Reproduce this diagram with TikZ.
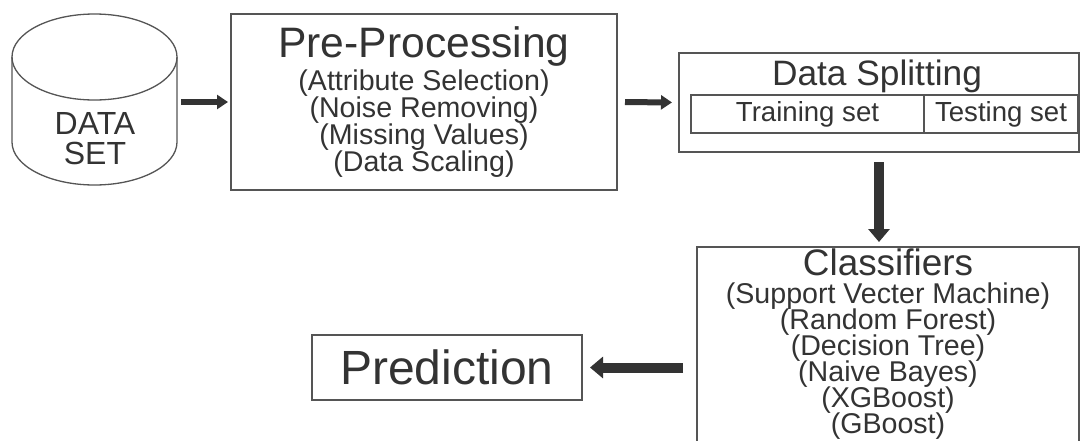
\documentclass[tikz,border=0pt]{standalone}
\usepackage{fontspec}
\setmainfont{Liberation Sans}
\usetikzlibrary{arrows.meta,positioning}
\definecolor{ink}{HTML}{333333}
\definecolor{edge}{HTML}{555555}
\newcommand\tightlines{\lineskiplimit=-50pt\relax}

\begin{document}
\begin{tikzpicture}[
  x=1pt, y=-1pt,
  every node/.style={text=ink, outer sep=0pt},
  box/.style={draw=edge, line width=1.3pt, align=center, inner sep=0pt},
  cell/.style={draw=edge, line width=1.3pt, minimum height=38pt, inner sep=0pt,
               font=\fontsize{27.6}{30}\selectfont},
  body/.style={font=\fontsize{28.6}{27}\selectfont\tightlines},
  arr/.style={-{Triangle[length=11pt, width=14pt]}, line width=6pt, draw=ink},
  bigarr/.style={-{Triangle[length=13pt, width=21pt]}, line width=10pt, draw=ink}
]
\useasboundingbox (0,0) rectangle (1080,440);

% data store: a plain node, its drum drawn round it
\node[minimum width=165pt, minimum height=171pt, inner sep=0pt] (data) at (94.5,99.5) {};
\draw[edge, line width=1.3pt] (12,57) -- (12,142)
  arc[start angle=180, end angle=0, x radius=82.5, y radius=43] -- (177,57);
\draw[edge, line width=1.3pt] (94.5,57) ellipse[x radius=82.5, y radius=43];
\node[align=center, font=\fontsize{32}{30}\selectfont\tightlines] (datalbl) at (95,139) {DATA\\SET};

% pre-processing
\node[box, body, minimum width=386pt, minimum height=176pt] (prep) at (424,102)
  {{\fontsize{42.6}{44}\selectfont Pre-Processing}\\[6pt]
   (Attribute Selection)\\(Noise Removing)\\(Missing Values)\\(Data Scaling)};

% splitting with its two parts
\node[box, minimum width=400pt, minimum height=99pt] (split) at (879,102.5) {};
\node[anchor=base, font=\fontsize{35.3}{36}\selectfont] (splittitle) at (877,85) {Data Splitting};
\node[cell, minimum width=233pt] (train) at (807.5,114) {Training set};
\node[cell, minimum width=154pt, right=0pt of train] (test) {Testing set};

% classifiers (runs off the bottom edge)
\node[box, body, font=\fontsize{28.6}{26}\selectfont\tightlines, minimum width=382pt,
      minimum height=202pt, text depth=14pt] (cls) at (888,348)
  {{\fontsize{36.9}{40}\selectfont Classifiers}\\[2pt]
   (Support Vecter Machine)\\(Random Forest)\\(Decision Tree)\\(Naive Bayes)\\(XGBoost)\\(GBoost)};

% result
\node[box, minimum width=270pt, minimum height=65pt, font=\fontsize{48}{50}\selectfont] (pred) at (447,367.5) {Prediction};

% flow
\draw[arr, shorten <=4pt, shorten >=3pt] (data.east |- prep.west) -- (prep.west);
\draw[arr, shorten <=8pt, shorten >=7pt] (prep.east) -- (split.west);
\draw[bigarr, shorten <=10pt, shorten >=5pt] (split.south) -- (split.south |- cls.north);
\draw[bigarr, shorten <=14pt, shorten >=8pt] (cls.west |- pred.east) -- (pred.east);
\end{tikzpicture}
\end{document}
